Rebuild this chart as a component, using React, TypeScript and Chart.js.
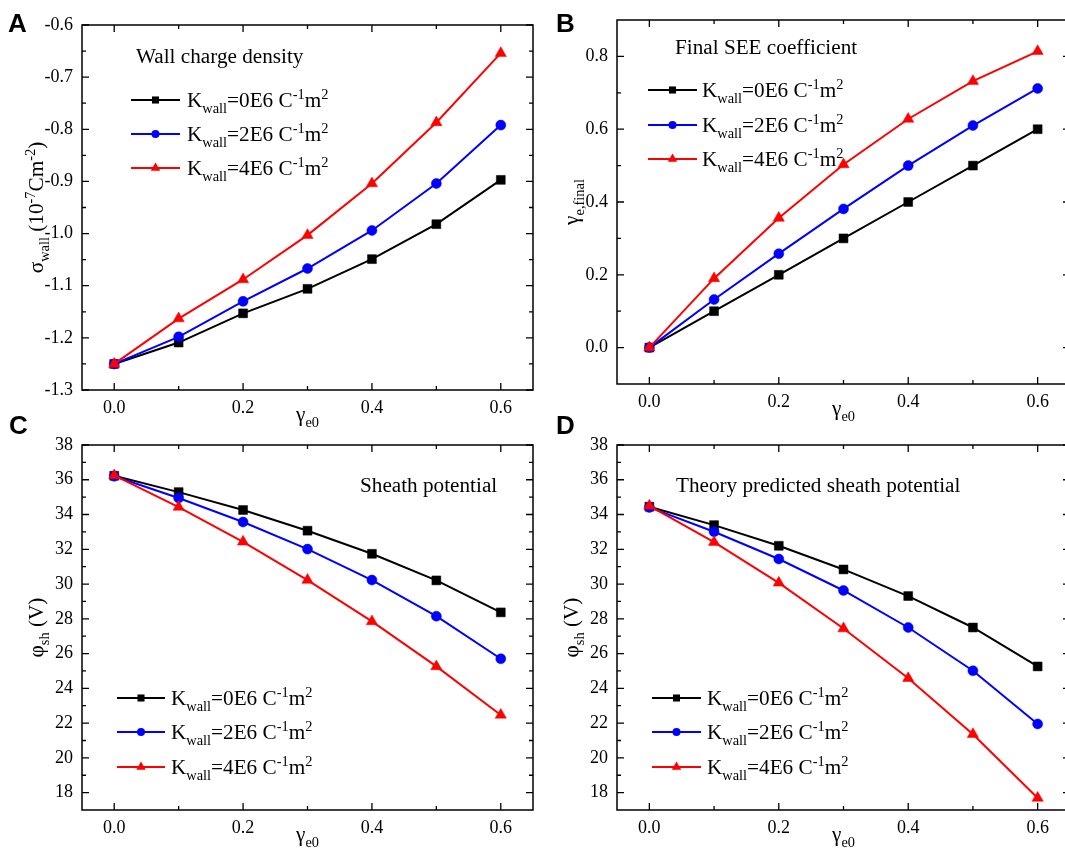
import React, { useEffect, useRef } from 'react';
import { Chart, registerables } from 'chart.js';

Chart.register(...registerables);

// ---------- data ----------
const gammaE0 = [0, 0.1, 0.2, 0.3, 0.4, 0.5, 0.6];

const sigmaK0 = [-1.25, -1.209, -1.153, -1.106, -1.049, -0.982, -0.897];
const sigmaK2 = [-1.25, -1.198, -1.13, -1.067, -0.994, -0.904, -0.792];
const sigmaK4 = [-1.25, -1.163, -1.088, -1.003, -0.904, -0.787, -0.654];

const gammaFinalK0 = [0, 0.1, 0.2, 0.3, 0.4, 0.5, 0.6];
const gammaFinalK2 = [0, 0.132, 0.258, 0.381, 0.5, 0.61, 0.712];
const gammaFinalK4 = [0, 0.19, 0.356, 0.503, 0.628, 0.732, 0.814];

const phiK0 = [36.23, 35.29, 34.26, 33.07, 31.74, 30.21, 28.37];
const phiK2 = [36.2, 34.95, 33.57, 32.01, 30.23, 28.15, 25.7];
const phiK4 = [36.25, 34.43, 32.43, 30.23, 27.85, 25.26, 22.47];

const phiTheoryK0 = [34.45, 33.39, 32.2, 30.84, 29.31, 27.5, 25.26];
const phiTheoryK2 = [34.41, 33.01, 31.44, 29.63, 27.5, 25.01, 21.95];
const phiTheoryK4 = [34.5, 32.41, 30.07, 27.44, 24.58, 21.36, 17.69];

const kWallValues = ['0E6', '2E6', '4E6'];

const xMajorTicks = [0, 0.2, 0.4, 0.6];
const xMinorTicks = [0.1, 0.3, 0.5];
const sigmaMajorTicks = [-1.3, -1.2, -1.1, -1.0, -0.9, -0.8, -0.7, -0.6];
const sigmaMinorTicks = [-1.25, -1.15, -1.05, -0.95, -0.85, -0.75, -0.65];
const gammaMajorTicks = [0, 0.2, 0.4, 0.6, 0.8];
const gammaMinorTicks = [0.1, 0.3, 0.5, 0.7];
const phiMajorTicks = [18, 20, 22, 24, 26, 28, 30, 32, 34, 36, 38];
const phiMinorTicks = [19, 21, 23, 25, 27, 29, 31, 33, 35, 37];

// ---------- styling / layout ----------
const SERIF = '"Liberation Serif", "Times New Roman", serif';
const SANS = '"Liberation Sans", Arial, sans-serif';
const COLORS = ['#000000', '#0000ff', '#ff0000'];
const STYLES = ['rect', 'circle', 'triangle'];
const RADII = [6.3, 5, 6.5];

type Seg = { t: string; s?: 'sub' | 'sup' };

function segFont(size: number, s?: string) {
  const px = s ? size * 0.68 : size;
  return `${px}px ${SERIF}`;
}
function richWidth(ctx: CanvasRenderingContext2D, segs: Seg[], size: number) {
  let w = 0;
  for (const g of segs) {
    ctx.font = segFont(size, g.s);
    w += ctx.measureText(g.t).width;
  }
  return w;
}
function drawRich(
  ctx: CanvasRenderingContext2D,
  segs: Seg[],
  x: number,
  y: number,
  size: number,
  align: 'left' | 'center',
  sx = 1
) {
  ctx.save();
  ctx.translate(x, y);
  ctx.scale(sx, 1);
  const w = richWidth(ctx, segs, size);
  let cx = align === 'center' ? -w / 2 : 0;
  ctx.textAlign = 'left';
  ctx.textBaseline = 'alphabetic';
  ctx.fillStyle = '#000';
  for (const g of segs) {
    ctx.font = segFont(size, g.s);
    const dy = g.s === 'sub' ? size * 0.3 : g.s === 'sup' ? -size * 0.38 : 0;
    ctx.fillText(g.t, cx, dy);
    cx += ctx.measureText(g.t).width;
  }
  ctx.restore();
}

function drawMarker(ctx: CanvasRenderingContext2D, style: string, x: number, y: number, r: number, color: string) {
  ctx.save();
  ctx.fillStyle = color;
  ctx.beginPath();
  if (style === 'rect') {
    const s = r * Math.SQRT1_2;
    ctx.rect(x - s, y - s, 2 * s, 2 * s);
  } else if (style === 'circle') {
    ctx.arc(x, y, r, 0, Math.PI * 2);
  } else {
    ctx.moveTo(x, y - r);
    ctx.lineTo(x + r * 0.866, y + r * 0.5);
    ctx.lineTo(x - r * 0.866, y + r * 0.5);
    ctx.closePath();
  }
  ctx.fill();
  ctx.restore();
}

const legendSegs = (k: string): Seg[] => [
  { t: 'K' },
  { t: 'wall', s: 'sub' },
  { t: `=${k} C` },
  { t: '-1', s: 'sup' },
  { t: 'm' },
  { t: '2', s: 'sup' },
];

const xTitle: Seg[] = [{ t: 'γ' }, { t: 'e0', s: 'sub' }];

type Box = { x: number; y: number; w: number; h: number };
type Area = { l: number; t: number; r: number; b: number };

interface Panel {
  letter: string;
  canvas: Box;
  area: Area;
  yMin: number;
  yMax: number;
  yMajor: number[];
  yMinor: number[];
  yDecimals: number;
  series: number[][];
  yTitle: Seg[];
  title: string;
  titlePos: { x: number; y: number };
  legend: { x1: number; x2: number; tx: number; rows: number[] };
}

const panels: Panel[] = [
  {
    letter: 'A',
    canvas: { x: 0, y: 0, w: 545, h: 432 },
    area: { l: 82, t: 25, r: 533, b: 390 },
    yMin: -1.3,
    yMax: -0.6,
    yMajor: sigmaMajorTicks,
    yMinor: sigmaMinorTicks,
    yDecimals: 1,
    series: [sigmaK0, sigmaK2, sigmaK4],
    yTitle: [{ t: 'σ' }, { t: 'wall', s: 'sub' }, { t: ' (10' }, { t: '-7', s: 'sup' }, { t: 'Cm' }, { t: '-2', s: 'sup' }, { t: ')' }],
    title: 'Wall charge density',
    titlePos: { x: 136, y: 63 },
    legend: { x1: 131, x2: 180, tx: 187, rows: [100, 134, 168] },
  },
  {
    letter: 'B',
    canvas: { x: 530, y: 0, w: 550, h: 432 },
    area: { l: 617, t: 20, r: 1070, b: 384 },
    yMin: -0.1,
    yMax: 0.9,
    yMajor: gammaMajorTicks,
    yMinor: gammaMinorTicks,
    yDecimals: 1,
    series: [gammaFinalK0, gammaFinalK2, gammaFinalK4],
    yTitle: [{ t: 'γ' }, { t: 'e,final', s: 'sub' }],
    title: 'Final SEE coefficient',
    titlePos: { x: 675, y: 54 },
    legend: { x1: 648, x2: 697, tx: 702, rows: [90, 125, 159] },
  },
  {
    letter: 'C',
    canvas: { x: 0, y: 398, w: 545, h: 459 },
    area: { l: 82, t: 445, r: 533, b: 810 },
    yMin: 17,
    yMax: 38,
    yMajor: phiMajorTicks,
    yMinor: phiMinorTicks,
    yDecimals: 0,
    series: [phiK0, phiK2, phiK4],
    yTitle: [{ t: 'φ' }, { t: 'sh', s: 'sub' }, { t: ' (V)' }],
    title: 'Sheath potential',
    titlePos: { x: 360, y: 492 },
    legend: { x1: 117, x2: 165, tx: 171, rows: [698, 732, 767] },
  },
  {
    letter: 'D',
    canvas: { x: 530, y: 398, w: 550, h: 459 },
    area: { l: 617, t: 445, r: 1070, b: 810 },
    yMin: 17,
    yMax: 38,
    yMajor: phiMajorTicks,
    yMinor: phiMinorTicks,
    yDecimals: 0,
    series: [phiTheoryK0, phiTheoryK2, phiTheoryK4],
    yTitle: [{ t: 'φ' }, { t: 'sh', s: 'sub' }, { t: ' (V)' }],
    title: 'Theory predicted sheath potential',
    titlePos: { x: 676, y: 492 },
    legend: { x1: 652, x2: 701, tx: 707, rows: [698, 732, 767] },
  },
];

const TEXT_SX = 1.06;

function makeDecor(p: Panel) {
  return {
    id: 'decor' + p.letter,
    afterDraw(chart: any) {
      const ctx: CanvasRenderingContext2D = chart.ctx;
      const ox = p.canvas.x;
      const oy = p.canvas.y;
      const ca = chart.chartArea;
      const xs = chart.scales.x;
      const ys = chart.scales.y;
      ctx.save();
      // frame
      ctx.strokeStyle = '#000';
      ctx.lineWidth = 1.5;
      ctx.strokeRect(ca.left, ca.top, ca.right - ca.left, ca.bottom - ca.top);
      // ticks
      ctx.lineWidth = 1.3;
      ctx.beginPath();
      const tick = (vals: number[], len: number) => {
        for (const v of vals) {
          const px = xs.getPixelForValue(v);
          ctx.moveTo(px, ca.bottom);
          ctx.lineTo(px, ca.bottom - len);
          ctx.moveTo(px, ca.top);
          ctx.lineTo(px, ca.top + len);
        }
      };
      const ytick = (vals: number[], len: number) => {
        for (const v of vals) {
          const py = ys.getPixelForValue(v);
          ctx.moveTo(ca.left, py);
          ctx.lineTo(ca.left + len, py);
          ctx.moveTo(ca.right, py);
          ctx.lineTo(ca.right - len, py);
        }
      };
      tick(xMajorTicks, 7);
      tick(xMinorTicks, 4);
      ytick(p.yMajor, 7);
      ytick(p.yMinor, 4);
      ctx.stroke();

      // axis titles
      drawRich(ctx, xTitle, (ca.left + ca.right) / 2 - (p.letter === 'B' || p.letter === 'D' ? 0 : 0), ca.bottom + 31, 20, 'center', TEXT_SX);
      ctx.save();
      ctx.translate(ca.left - 39, (ca.top + ca.bottom) / 2);
      ctx.rotate(-Math.PI / 2);
      drawRich(ctx, p.yTitle, 0, 0, 20, 'center', TEXT_SX);
      ctx.restore();

      // inner title
      drawRich(ctx, [{ t: p.title }], p.titlePos.x - ox, p.titlePos.y - oy, 20, 'left', TEXT_SX);

      // legend
      p.legend.rows.forEach((ry, i) => {
        const y = ry - oy;
        ctx.strokeStyle = COLORS[i];
        ctx.lineWidth = 2;
        ctx.beginPath();
        ctx.moveTo(p.legend.x1 - ox, y);
        ctx.lineTo(p.legend.x2 - ox, y);
        ctx.stroke();
        const mx = (p.legend.x1 + p.legend.x2) / 2 - ox;
        drawMarker(ctx, STYLES[i], mx, y, [5, 4, 5.5][i], COLORS[i]);
        drawRich(ctx, legendSegs(kWallValues[i]), p.legend.tx - ox, y + 7, 20, 'left', TEXT_SX);
      });

      // panel letter
      ctx.font = `bold 26px ${SANS}`;
      ctx.fillStyle = '#000';
      ctx.textAlign = 'left';
      ctx.textBaseline = 'alphabetic';
      const letterPos: Record<string, [number, number]> = { A: [8, 32], B: [556, 32], C: [9, 434], D: [556, 434] };
      const [lx, ly] = letterPos[p.letter];
      ctx.fillText(p.letter, lx - ox, ly - oy);
      ctx.restore();
    },
  };
}

function PanelChart({ p }: { p: Panel }) {
  const ref = useRef<HTMLCanvasElement | null>(null);
  useEffect(() => {
    if (!ref.current) return;
    const datasets = p.series.map((vals, i) => ({
      label: `K=${kWallValues[i]}`,
      data: gammaE0.map((g, j) => ({ x: g, y: vals[j] })),
      borderColor: COLORS[i],
      backgroundColor: COLORS[i],
      borderWidth: 2,
      pointStyle: STYLES[i],
      pointRadius: RADII[i],
      pointBorderWidth: 0.5,
      pointBorderColor: COLORS[i],
      pointBackgroundColor: COLORS[i],
      tension: 0,
      order: 2 - i,
      clip: false as any,
    }));
    const yWidth = p.area.l - p.canvas.x;
    const xHeight = p.canvas.y + p.canvas.h - p.area.b;
    const chart = new Chart(ref.current, {
      type: 'line',
      data: { datasets },
      options: {
        animation: false,
        responsive: false,
        devicePixelRatio: 1,
        layout: {
          padding: {
            left: 0,
            bottom: 0,
            top: p.area.t - p.canvas.y,
            right: p.canvas.x + p.canvas.w - p.area.r,
          },
        },
        plugins: { legend: { display: false }, tooltip: { enabled: false }, title: { display: false } },
        scales: {
          x: {
            type: 'linear',
            min: -0.05,
            max: 0.65,
            afterBuildTicks: (s: any) => {
              s.ticks = xMajorTicks.map((v) => ({ value: v }));
            },
            afterFit: (s: any) => {
              s.height = xHeight;
            },
            grid: { display: false, drawTicks: false },
            border: { display: false },
            ticks: {
              autoSkip: false,
              maxRotation: 0,
              padding: 7,
              color: '#000',
              font: { family: SERIF, size: 18 },
              callback: (v: any) => Number(v).toFixed(1),
            },
          },
          y: {
            type: 'linear',
            min: p.yMin,
            max: p.yMax,
            afterBuildTicks: (s: any) => {
              s.ticks = p.yMajor.map((v) => ({ value: v }));
            },
            afterFit: (s: any) => {
              s.width = yWidth;
            },
            grid: { display: false, drawTicks: false },
            border: { display: false },
            ticks: {
              autoSkip: false,
              padding: 9,
              color: '#000',
              font: { family: SERIF, size: 18 },
              callback: (v: any) => Number(v).toFixed(p.yDecimals),
            },
          },
        },
      },
      plugins: [makeDecor(p)],
    } as any);
    return () => chart.destroy();
  }, [p]);
  return (
    <canvas
      ref={ref}
      width={p.canvas.w}
      height={p.canvas.h}
      style={{ position: 'absolute', left: p.canvas.x, top: p.canvas.y, width: p.canvas.w, height: p.canvas.h }}
    />
  );
}

export default function App() {
  return (
    <div
      style={{
        position: 'absolute',
        left: 0,
        top: 0,
        width: 1065,
        height: 857,
        overflow: 'hidden',
        background: '#fff',
      }}
    >
      {panels.map((p) => (
        <PanelChart key={p.letter} p={p} />
      ))}
    </div>
  );
}
